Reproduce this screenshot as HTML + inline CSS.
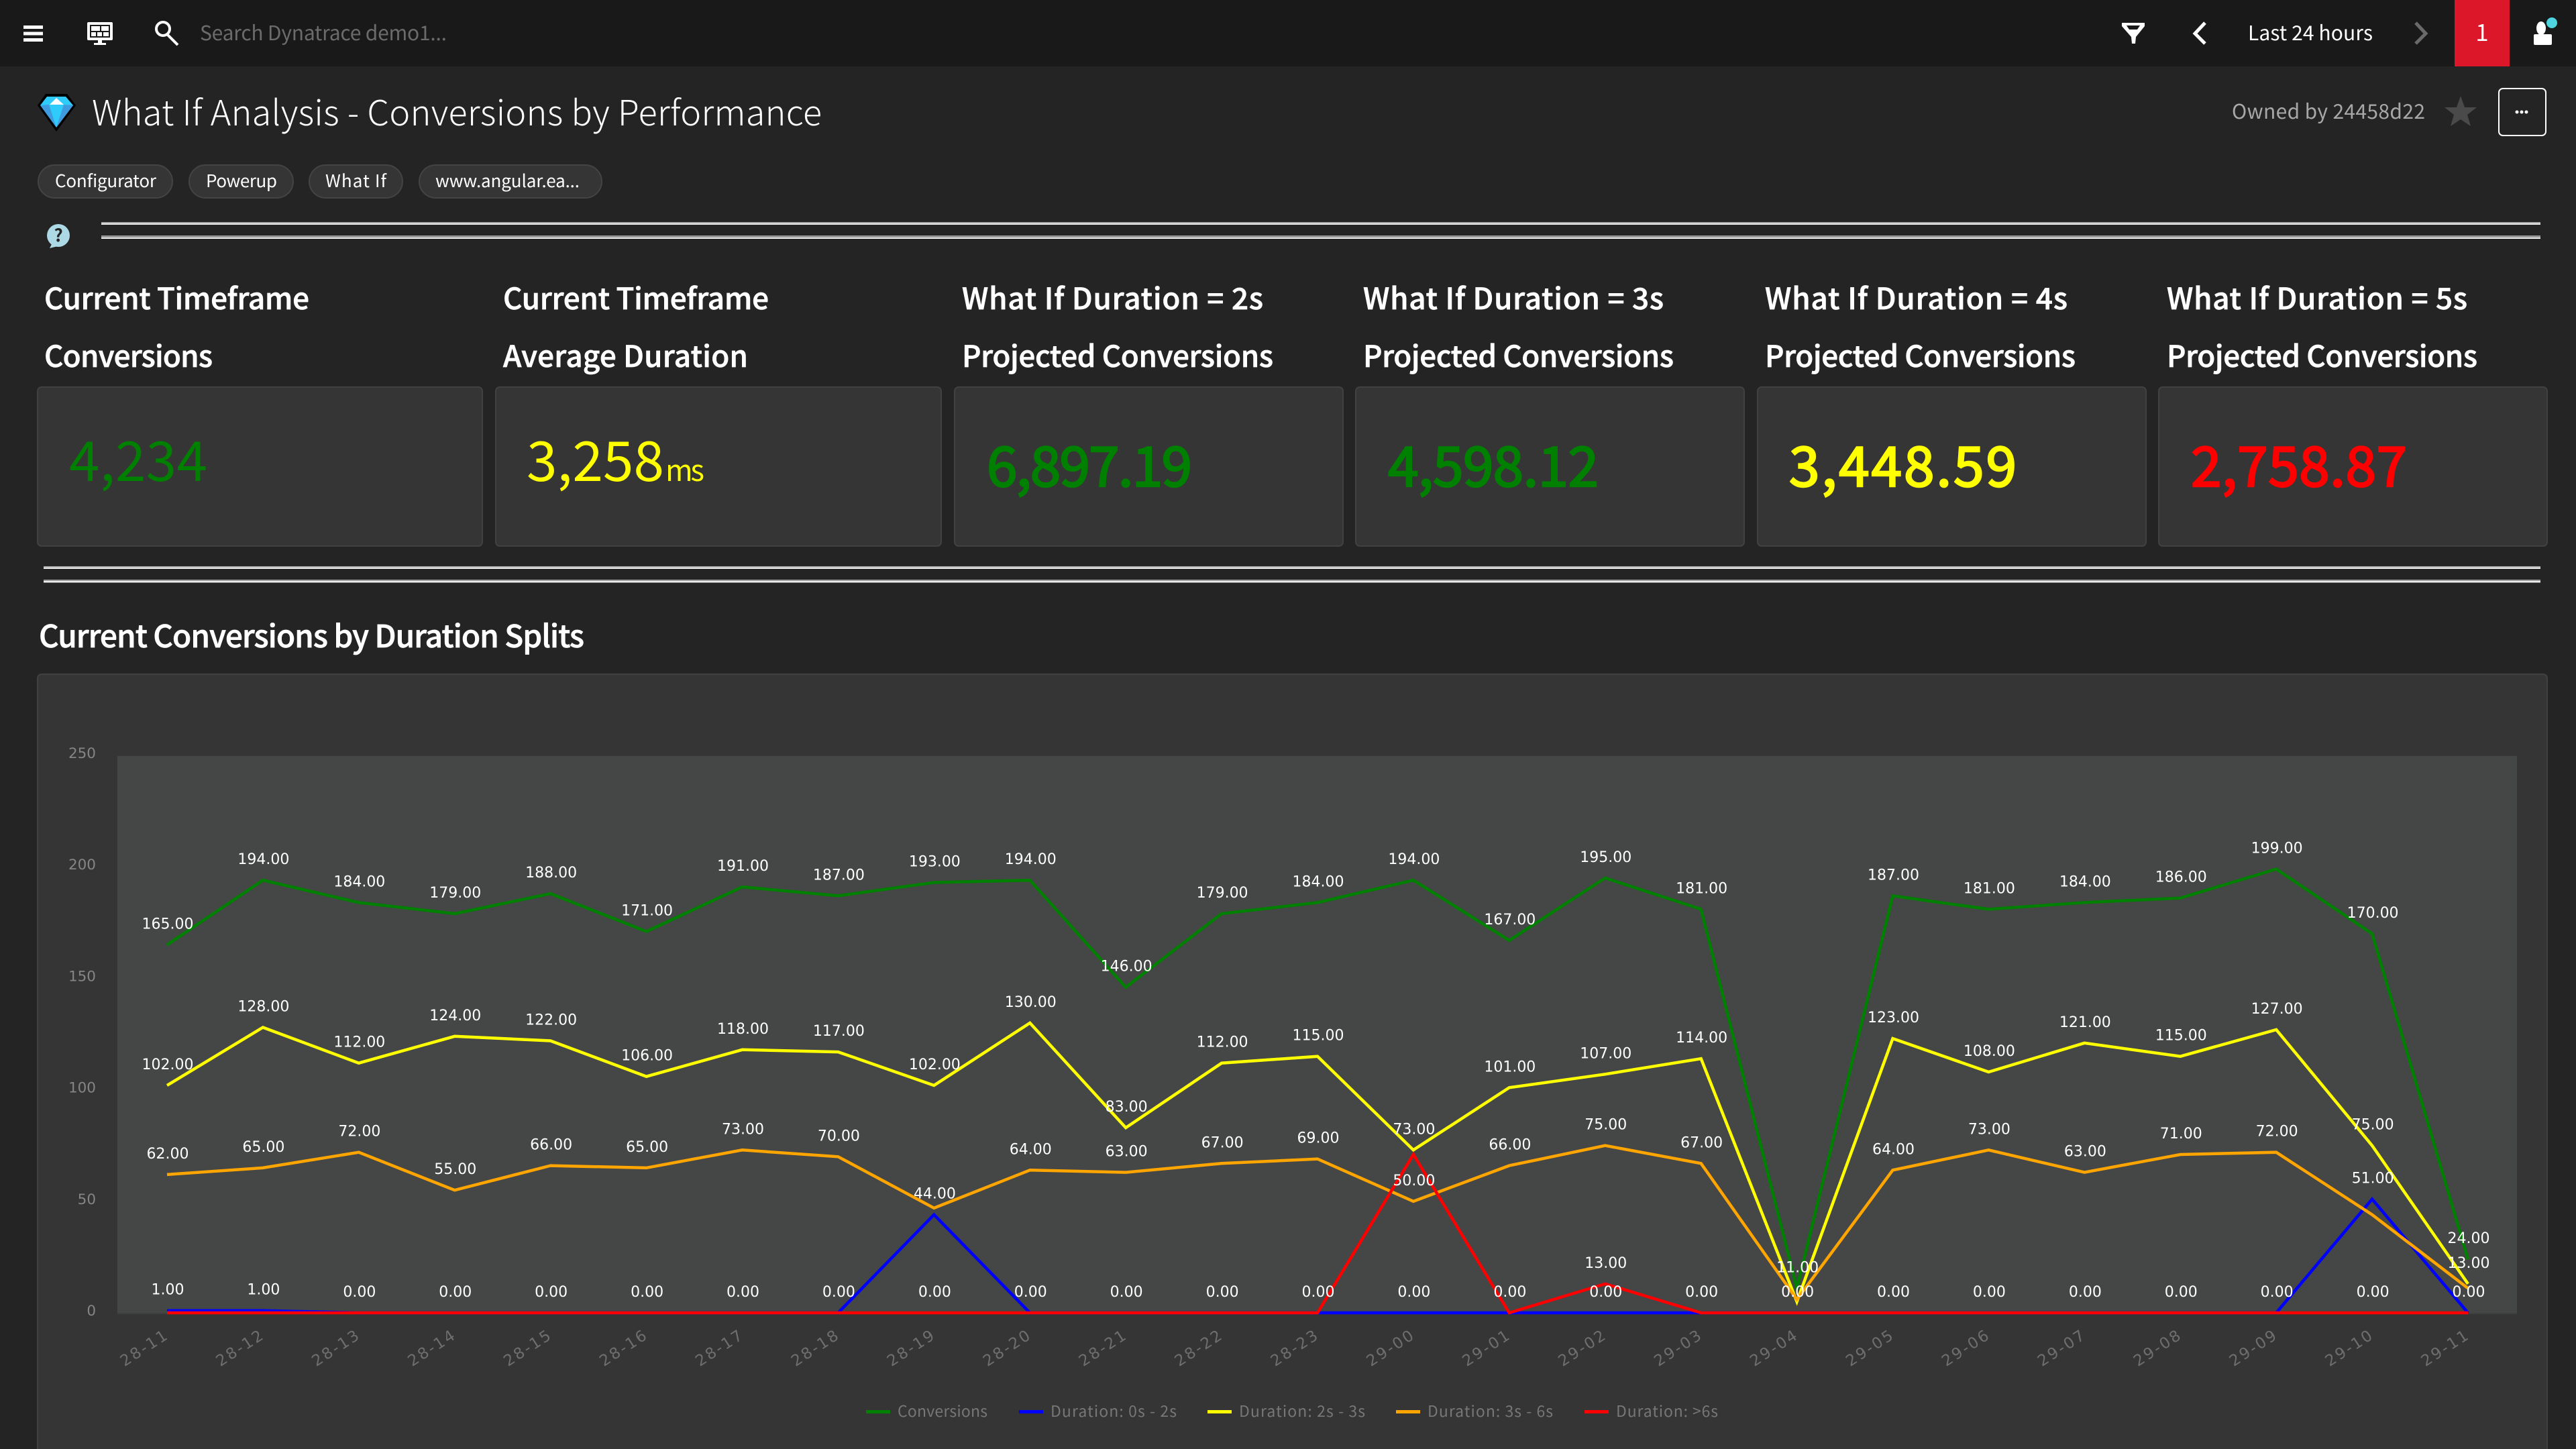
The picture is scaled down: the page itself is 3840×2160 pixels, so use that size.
<!DOCTYPE html>
<html lang="en">
<head>
<meta charset="utf-8">
<title>What If Analysis - Conversions by Performance</title>
<style>
html,body{margin:0;padding:0;background:#242424;width:3840px;height:2160px;overflow:hidden}
svg{display:block}
text{font-family:"Noto Sans CJK JP","Liberation Sans",sans-serif}
.dj{font-family:"DejaVu Sans","Liberation Sans",sans-serif}
.hd{font-size:44px;fill:#fff;font-weight:500;stroke:#fff;stroke-width:.7px}
.big{font-size:82px}
.strong{stroke-width:2.5px}
.card{fill:#353535;stroke:#414141;stroke-width:2}
</style>
</head>
<body>
<svg id="page" xmlns="http://www.w3.org/2000/svg" width="3840" height="2160" viewBox="0 0 3840 2160">
  <rect x="0" y="0" width="3840" height="2160" fill="#242424"/>

  <g>
    <rect x="0" y="0" width="3840" height="99" fill="#191919"/>
    <g fill="#fff">
      <rect x="35" y="38" width="29" height="5"/><rect x="35" y="47.500" width="29" height="5"/><rect x="35" y="57" width="29" height="5"/>
    </g>
    <g>
      <rect x="130" y="33" width="38" height="27" rx="2" fill="#fff"/>
      <rect x="134" y="37" width="30" height="19" fill="#191919"/>
      <rect x="136" y="39" width="13" height="7" fill="#fff"/><rect x="151" y="39" width="11" height="7" fill="#fff"/>
      <rect x="136" y="48" width="7" height="6" fill="#fff"/><rect x="145" y="48" width="7" height="6" fill="#fff"/><rect x="154" y="48" width="8" height="6" fill="#fff"/>
      <rect x="146" y="60" width="6" height="5" fill="#fff"/><rect x="140" y="64" width="18" height="3" fill="#fff"/>
    </g>
    <g fill="none" stroke="#fff">
      <circle cx="243" cy="43" r="10" stroke-width="4"/>
      <line x1="250" y1="52" x2="265" y2="67" stroke-width="4"/>
    </g>
    <text x="298" y="60" font-size="30" fill="#6b6b6b" textLength="368" lengthAdjust="spacing">Search Dynatrace demo1...</text>
    <path d="M3163 34H3197V39L3184 55L3183 65H3178L3177 55L3163 39Z M3170 38L3174 44H3186L3190 38Z" fill="#fff" fill-rule="evenodd"/>
    <polyline points="3287,34 3272,50 3287,65" fill="none" stroke="#fff" stroke-width="5"/>
    <text x="3351" y="60" font-size="30" fill="#fff" textLength="186" lengthAdjust="spacing">Last 24 hours</text>
    <polyline points="3601,34 3616,50 3601,65" fill="none" stroke="#6a6a6a" stroke-width="5"/>
    <rect x="3659" y="0" width="82" height="99" fill="#dc172a"/>
    <text x="3700" y="61" font-size="35" fill="#fff" text-anchor="middle">1</text>
    <g>
      <ellipse cx="3788" cy="42" rx="7" ry="10" fill="#fff"/>
      <rect x="3777" y="51" width="27" height="16" rx="2" fill="#fff"/>
      <circle cx="3804" cy="34" r="9" fill="#191919"/>
      <circle cx="3804" cy="34" r="8" fill="#4fd5e0"/>
    </g>
  </g>

  <g>
    <g>
      <polygon points="68,140 100,140 113,157 84,196 56,157" fill="#000"/>
      <polygon points="70,144 98,144 109,157 84,190 60,157" fill="#2ecbfb"/>
      <polygon points="60,157 73,156 84,190" fill="#3f9be0"/>
      <polygon points="109,157 95,156 84,190" fill="#3f9be0"/>
      <polygon points="84,146 74,156 95,156" fill="#fff"/>
    </g>
    <text x="137" y="187" font-size="52" font-weight="300" fill="#fff" textLength="1088" lengthAdjust="spacing">What If Analysis - Conversions by Performance</text>
    <text x="3327" y="177" font-size="30" fill="#a8a8a8" textLength="288" lengthAdjust="spacing">Owned by 24458d22</text>
    <polygon points="3668,143 3674,160 3692,160 3678,171 3683,188 3668,178 3653,188 3658,171 3644,160 3662,160" fill="#4a4a4a"/>
    <g>
      <rect x="3725" y="132" width="70" height="70" rx="6" fill="none" stroke="#fff" stroke-width="2"/>
      <circle cx="3752" cy="167" r="2.500" fill="#fff"/><circle cx="3759" cy="167" r="2.500" fill="#fff"/><circle cx="3766" cy="167" r="2.500" fill="#fff"/>
    </g>
  </g>

  <g font-size="26" fill="#fff">
    <g>
      <rect x="57" y="246" width="200" height="49" rx="24.500" fill="#353535" stroke="#444" stroke-width="2"/>
      <text x="82" y="279" fill="#fff" textLength="151" lengthAdjust="spacing">Configurator</text>
    </g>
    <g>
      <rect x="282" y="246" width="155" height="49" rx="24.500" fill="#353535" stroke="#444" stroke-width="2"/>
      <text x="307" y="279" fill="#fff" textLength="106" lengthAdjust="spacing">Powerup</text>
    </g>
    <g>
      <rect x="461" y="246" width="139" height="49" rx="24.500" fill="#353535" stroke="#444" stroke-width="2"/>
      <text x="485" y="279" fill="#fff" textLength="91" lengthAdjust="spacing">What If</text>
    </g>
    <g>
      <rect x="625" y="246" width="272" height="49" rx="24.500" fill="#353535" stroke="#444" stroke-width="2"/>
      <text x="649" y="279" fill="#fff" textLength="215" lengthAdjust="spacing">www.angular.ea...</text>
    </g>
  </g>

  <g>
    <circle cx="87" cy="351" r="17" fill="#add8e6"/>
    <polygon points="78,362 90,366 74,370" fill="#add8e6"/>
    <text x="87" y="360" font-size="26" font-weight="700" fill="#242424" text-anchor="middle">?</text>
  </g>

  <g>
    <rect x="151" y="331" width="3636" height="2" fill="#aaa"/><rect x="151" y="333" width="3636" height="2" fill="#eee"/>
    <rect x="151" y="351" width="3636" height="2" fill="#9c9c9c"/><rect x="151" y="353.500" width="3636" height="2.500" fill="#eee"/>
  </g>

  <g>
    <text class="hd" x="66" y="461" textLength="395" lengthAdjust="spacing">Current Timeframe</text>
    <text class="hd" x="66" y="547" textLength="251" lengthAdjust="spacing">Conversions</text>
    <text class="hd" x="750" y="461" textLength="396" lengthAdjust="spacing">Current Timeframe</text>
    <text class="hd" x="750" y="547" textLength="365" lengthAdjust="spacing">Average Duration</text>
    <text class="hd" x="1434" y="461" textLength="449" lengthAdjust="spacing">What If Duration = 2s</text>
    <text class="hd" x="1434" y="547" textLength="464" lengthAdjust="spacing">Projected Conversions</text>
    <text class="hd" x="2032" y="461" textLength="448" lengthAdjust="spacing">What If Duration = 3s</text>
    <text class="hd" x="2032" y="547" textLength="463" lengthAdjust="spacing">Projected Conversions</text>
    <text class="hd" x="2631" y="461" textLength="451" lengthAdjust="spacing">What If Duration = 4s</text>
    <text class="hd" x="2631" y="547" textLength="463" lengthAdjust="spacing">Projected Conversions</text>
    <text class="hd" x="3230" y="461" textLength="448" lengthAdjust="spacing">What If Duration = 5s</text>
    <text class="hd" x="3230" y="547" textLength="463" lengthAdjust="spacing">Projected Conversions</text>
  </g>

  <g>
    <g>
      <rect class="card" x="56" y="577" width="663" height="237" rx="6"/>
      <text class="big" x="103" y="717" fill="#008000" textLength="206" lengthAdjust="spacing">4,234</text>
    </g>
    <g>
      <rect class="card" x="739" y="577" width="664" height="237" rx="6"/>
      <text class="big" x="785" y="717" fill="#ffff00" textLength="205" lengthAdjust="spacing">3,258</text>
      <text x="992" y="717" font-size="44" fill="#ffff00" textLength="58" lengthAdjust="spacing">ms</text>
    </g>
    <g>
      <rect class="card" x="1423" y="577" width="579" height="237" rx="6"/>
      <text class="big strong" x="1471" y="725" fill="#008000" stroke="#008000" textLength="306" lengthAdjust="spacing">6,897.19</text>
    </g>
    <g>
      <rect class="card" x="2021" y="577" width="579" height="237" rx="6"/>
      <text class="big strong" x="2069" y="725" fill="#008000" stroke="#008000" textLength="314" lengthAdjust="spacing">4,598.12</text>
    </g>
    <g>
      <rect class="card" x="2620" y="577" width="579" height="237" rx="6"/>
      <text class="big strong" x="2667" y="725" fill="#ffff00" stroke="#ffff00" textLength="339" lengthAdjust="spacing">3,448.59</text>
    </g>
    <g>
      <rect class="card" x="3218" y="577" width="579" height="237" rx="6"/>
      <text class="big strong" x="3266" y="725" fill="#ff0000" stroke="#ff0000" textLength="322" lengthAdjust="spacing">2,758.87</text>
    </g>
  </g>

  <g>
    <rect x="65" y="844" width="3722" height="2" fill="#aaa"/><rect x="65" y="846" width="3722" height="2" fill="#eee"/>
    <rect x="65" y="864" width="3722" height="2" fill="#9c9c9c"/><rect x="65" y="866" width="3722" height="2.500" fill="#eee"/>
  </g>

  <text class="hd" x="58" y="965" style="font-size:46px" textLength="813" lengthAdjust="spacing">Current Conversions by Duration Splits</text>

  <rect x="56" y="1005" width="3741" height="1170" rx="6" fill="#353535" stroke="#414141" stroke-width="2"/>
  <rect x="175" y="1127" width="3577" height="831" fill="#454646"/>
  <rect x="175" y="1957" width="3577" height="2" fill="#3e3f3f"/>
  <g id="chart"></g>
</svg>

<script>
const categories = ["28-11","28-12","28-13","28-14","28-15","28-16","28-17","28-18","28-19","28-20","28-21","28-22","28-23","29-00","29-01","29-02","29-03","29-04","29-05","29-06","29-07","29-08","29-09","29-10","29-11"];
const conversions = [165,194,184,179,188,171,191,187,193,194,146,179,184,194,167,195,181,11,187,181,184,186,199,170,24];
const duration0to2 = [1,1,0,0,0,0,0,0,44,0,0,0,0,0,0,0,0,0,0,0,0,0,0,51,0];
const duration2to3 = [102,128,112,124,122,106,118,117,102,130,83,112,115,73,101,107,114,5,123,108,121,115,127,75,13];
const duration3to6 = [62,65,72,55,66,65,73,70,47,64,63,67,69,50,66,75,67,6,64,73,63,71,72,44,11];
const durationOver6 = [0,0,0,0,0,0,0,0,0,0,0,0,0,71,0,13,0,0,0,0,0,0,0,0,0];
const yTicks = [0,50,100,150,200,250];
const seriesNames = ["Conversions","Duration: 0s - 2s","Duration: 2s - 3s","Duration: 3s - 6s","Duration: >6s"];
const seriesColors = ["#008000","#0000ff","#ffff00","#ffa500","#ff0000"];
const seriesValues = [conversions,duration0to2,duration2to3,duration3to6,durationOver6];

const SVG_NS = "http://www.w3.org/2000/svg";
const chart = document.getElementById("chart");
const yMax = yTicks[yTicks.length - 1];
function xScale(i){ return 249 + i * (3430 / (categories.length - 1)); }
function yScale(v){ return 1957 - v * (831 / yMax); }
function mk(tag, attrs, parent){
  const el = document.createElementNS(SVG_NS, tag);
  for (const k in attrs) el.setAttribute(k, attrs[k]);
  (parent || chart).appendChild(el);
  return el;
}

yTicks.forEach(function(t){
  const el = mk("text", {x:143, y:yScale(t) + 4, "text-anchor":"end", "font-size":21.5, fill:"#858585", "class":"dj"});
  
  
  el.textContent = String(t);
});

categories.forEach(function(c, i){
  const px = xScale(i) + 2, py = 1995;
  const el = mk("text", {x:px, y:py, "text-anchor":"end", "font-size":23, fill:"#6e6e6e", "class":"dj", transform:"rotate(-33 " + px + " " + py + ")", textLength:78, lengthAdjust:"spacing"});
  
  
  el.textContent = c;
});

seriesValues.forEach(function(vals, s){
  const d = vals.map(function(v, i){ return (i ? "L" : "M") + xScale(i).toFixed(1) + " " + yScale(v).toFixed(1); }).join(" ");
  const line = mk("path", {d:d, fill:"none", stroke:seriesColors[s], "stroke-width":4.5, "stroke-linejoin":"miter", "stroke-miterlimit":10});
  
  
});

categories.forEach(function(c, i){
  const placed = [];
  seriesValues.forEach(function(vals){
    const ly = yScale(vals[i]) - 32;
    if (placed.some(function(p){ return Math.abs(p - ly) < 28; })) return;
    placed.push(ly);
    const el = mk("text", {x:xScale(i) + 1, y:ly + 8, "text-anchor":"middle", "font-size":22, fill:"#fff", "class":"dj"});
    
    
    el.textContent = vals[i].toFixed(2);
  });
});

let legendX = 1291;
const legendGaps = [228,281,281,281,0];
const legendWidths = [134,188,188,187,152];
seriesNames.forEach(function(n, s){
  const g = mk("g", {});
  
  
  mk("rect", {x:legendX, y:2102, width:36, height:5, fill:seriesColors[s]}, g);
  const t = mk("text", {x:legendX + 47, y:2112, "font-size":23, fill:"#777", textLength:legendWidths[s], lengthAdjust:"spacing"}, g);
  t.textContent = n;
  legendX += legendGaps[s];
});
</script>
</body>
</html>
